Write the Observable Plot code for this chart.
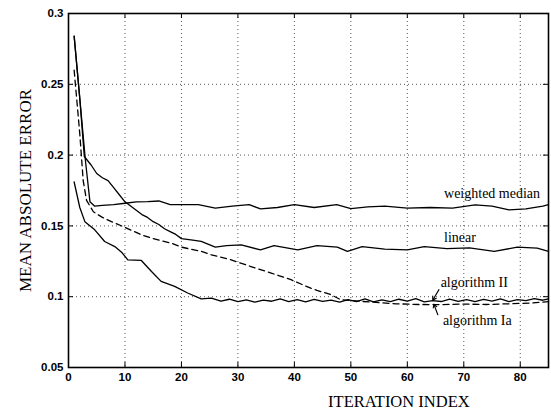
<!DOCTYPE html>
<html>
<head>
<meta charset="utf-8">
<script src="https://cdn.jsdelivr.net/npm/d3@7"></script>
<script src="https://cdn.jsdelivr.net/npm/@observablehq/plot@0.6"></script>
<style>
  html, body { margin: 0; padding: 0; background: #fff; }
  #chart svg { display: block; background: #fff; }
</style>
</head>
<body>
<div id="chart"></div>
<script>
// ---- data ----
const xTicks = [0, 10, 20, 30, 40, 50, 60, 70, 80];
const yTicks = [0.05, 0.1, 0.15, 0.2, 0.25, 0.3];
const yTickLabels = ["0.05", "0.1", "0.15", "0.2", "0.25", "0.3"];

const wmX = [1, 2, 3, 3.8, 4.6, 6, 8, 10, 12, 14, 16, 18, 20, 23, 26, 29, 32, 34, 37, 40, 43.5, 47.5, 50, 53, 56, 60, 64, 68, 72, 75, 78, 81, 84, 85];
const wmY = [0.284, 0.24, 0.196, 0.167, 0.164, 0.1645, 0.165, 0.166, 0.167, 0.1672, 0.1676, 0.165, 0.165, 0.165, 0.1625, 0.164, 0.165, 0.162, 0.163, 0.165, 0.163, 0.165, 0.1622, 0.1635, 0.164, 0.1625, 0.163, 0.1625, 0.1648, 0.164, 0.1613, 0.162, 0.164, 0.165];

const linX = [1, 2, 2.8, 4, 5, 6, 7, 8, 9, 10, 11, 12, 13, 14, 15, 16, 17, 18, 19, 20, 22, 23.5, 26, 28, 30.6, 34, 36.4, 40.6, 44, 47.6, 49.4, 52, 56, 60, 63, 67, 71, 75.4, 79.5, 83, 85];
const linY = [0.284, 0.24, 0.199, 0.193, 0.187, 0.184, 0.182, 0.177, 0.172, 0.167, 0.164, 0.161, 0.158, 0.156, 0.153, 0.151, 0.148, 0.146, 0.144, 0.141, 0.140, 0.139, 0.135, 0.136, 0.1366, 0.133, 0.136, 0.133, 0.136, 0.135, 0.132, 0.1354, 0.1336, 0.133, 0.1354, 0.134, 0.1345, 0.132, 0.135, 0.1343, 0.132];

const iaX = [1, 2, 2.6, 3.2, 4.4, 6, 7.6, 10, 12.9, 15, 18.2, 20, 23.5, 25.3, 28.8, 32.3, 35.9, 39.4, 42.9, 44, 46.5, 48.2, 51.8, 55, 58, 62, 66, 70, 74, 78, 82, 85];
const iaY = [0.26, 0.215, 0.182, 0.168, 0.160, 0.156, 0.153, 0.149, 0.1437, 0.141, 0.1378, 0.135, 0.132, 0.1296, 0.126, 0.1213, 0.1167, 0.112, 0.106, 0.1045, 0.1014, 0.0979, 0.0967, 0.0958, 0.095, 0.0945, 0.0944, 0.0948, 0.0945, 0.095, 0.0955, 0.0965];

const iiX = [1, 2, 2.9, 4.65, 6.4, 8.2, 9.5, 10.5, 12.9, 14.7, 16.4, 18.8, 21.1, 23.5, 25.3, 27, 28.5, 30, 31.5, 33, 34.5, 36, 37.5, 39, 40.5, 42, 43.5, 45, 46.5, 48, 49.5, 51, 52.5, 54, 55.5, 57, 58.5, 60, 61.5, 63, 64.5, 66, 67.5, 69, 70.5, 72, 73.5, 75, 76.5, 78, 79.5, 81, 82.5, 84, 85];
const iiY = [0.181, 0.163, 0.153, 0.1472, 0.139, 0.1354, 0.131, 0.126, 0.1256, 0.1178, 0.1108, 0.1073, 0.1026, 0.0984, 0.099, 0.0968, 0.0982, 0.0965, 0.0978, 0.0962, 0.0976, 0.0968, 0.0984, 0.0966, 0.0979, 0.0964, 0.0981, 0.0967, 0.0976, 0.0962, 0.098, 0.0966, 0.0985, 0.0963, 0.0978, 0.0965, 0.0982, 0.0968, 0.0986, 0.0964, 0.0972, 0.0966, 0.0983, 0.0967, 0.0979, 0.0965, 0.0981, 0.0969, 0.0984, 0.0966, 0.0979, 0.0972, 0.0986, 0.0975, 0.0985];

const labelTexts = ["weighted median", "linear", "algorithm II", "algorithm Ia"];
const labelX = [66.5, 66.5, 65.9, 66.3];
const labelY = [0.1697, 0.1387, 0.107, 0.0803];

const arrowX1 = [65.6, 65.4];
const arrowY1 = [0.105, 0.0873];
const arrowX2 = [64.5, 64.7];
const arrowY2 = [0.0975, 0.0947];

const xTitle = "ITERATION INDEX";
const yTitle = "MEAN ABSOLUTE ERROR";

// ---- build tables ----
const solidSeries = [
  {name: "weighted median", x: wmX, y: wmY},
  {name: "linear", x: linX, y: linY},
  {name: "algorithm II", x: iiX, y: iiY}
];
const dashedSeries = [{name: "algorithm Ia", x: iaX, y: iaY}];
const toRows = list => list.flatMap(s => s.x.map((x, i) => ({series: s.name, iter: x, mae: s.y[i]})));
const solidRows = toRows(solidSeries);
const dashedRows = toRows(dashedSeries);
const labels = labelTexts.map((t, i) => ({t, x: labelX[i], y: labelY[i]}));
const arrows = arrowX1.map((x, i) => ({x1: x, y1: arrowY1[i], x2: arrowX2[i], y2: arrowY2[i]}));

const tickFont = {fontFamily: "Liberation Sans, Arial, sans-serif", fontWeight: "bold", fontSize: 11.5};
const serif = "Liberation Serif, Times New Roman, serif";
const gridStyle = {stroke: "#000", strokeOpacity: 0.85, strokeWidth: 0.8, strokeDasharray: "1,3"};

const chart = Plot.plot({
  width: 551,
  height: 410,
  marginLeft: 68,
  marginRight: 3,
  marginTop: 13,
  marginBottom: 43,
  style: {background: "#fff", color: "#000"},
  x: {domain: [0, 85]},
  y: {domain: [0.05, 0.3]},
  marks: [
    Plot.gridX(xTicks.filter(d => d > 0), gridStyle),
    Plot.gridY(yTicks.filter(d => d > 0.05 && d < 0.3), gridStyle),
    // inward ticks on all four sides
    Plot.tickX(xTicks, {x: d => d, insetTop: 349, stroke: "#000", strokeWidth: 1}),
    Plot.tickX(xTicks, {x: d => d, insetBottom: 349, stroke: "#000", strokeWidth: 1}),
    Plot.tickY(yTicks, {y: d => d, insetRight: 475, stroke: "#000", strokeWidth: 1}),
    Plot.tickY(yTicks, {y: d => d, insetLeft: 475, stroke: "#000", strokeWidth: 1}),
    Plot.line(solidRows, {x: "iter", y: "mae", z: "series", stroke: "#000", strokeWidth: 1.3, curve: "linear"}),
    Plot.line(dashedRows, {x: "iter", y: "mae", z: "series", stroke: "#000", strokeWidth: 1.3, strokeDasharray: "6,4"}),
    Plot.frame({stroke: "#000", strokeWidth: 1.6}),
    Plot.axisX(xTicks, {tickSize: 0, tickPadding: 5, label: null, ...tickFont}),
    Plot.axisY(yTicks, {tickSize: 0, tickPadding: 5, label: null, tickFormat: (d, i) => yTickLabels[i], ...tickFont}),
    Plot.text(labels, {x: "x", y: "y", text: "t", textAnchor: "start", lineAnchor: "bottom", fontFamily: serif, fontSize: 14, fill: "#000"}),
    Plot.arrow(arrows, {x1: "x1", y1: "y1", x2: "x2", y2: "y2", stroke: "#000", strokeWidth: 1.1, headLength: 6}),
    Plot.text([xTitle], {x: 58.5, frameAnchor: "bottom", dy: 39, textAnchor: "middle", lineAnchor: "bottom", text: d => d, fontFamily: serif, fontSize: 16.5, fill: "#000"}),
    Plot.text([yTitle], {y: 0.175, frameAnchor: "left", dx: -43, textAnchor: "middle", lineAnchor: "middle", rotate: -90, text: d => d, fontFamily: serif, fontSize: 17, fill: "#000"})
  ]
});
document.getElementById("chart").appendChild(chart);
</script>
</body>
</html>
